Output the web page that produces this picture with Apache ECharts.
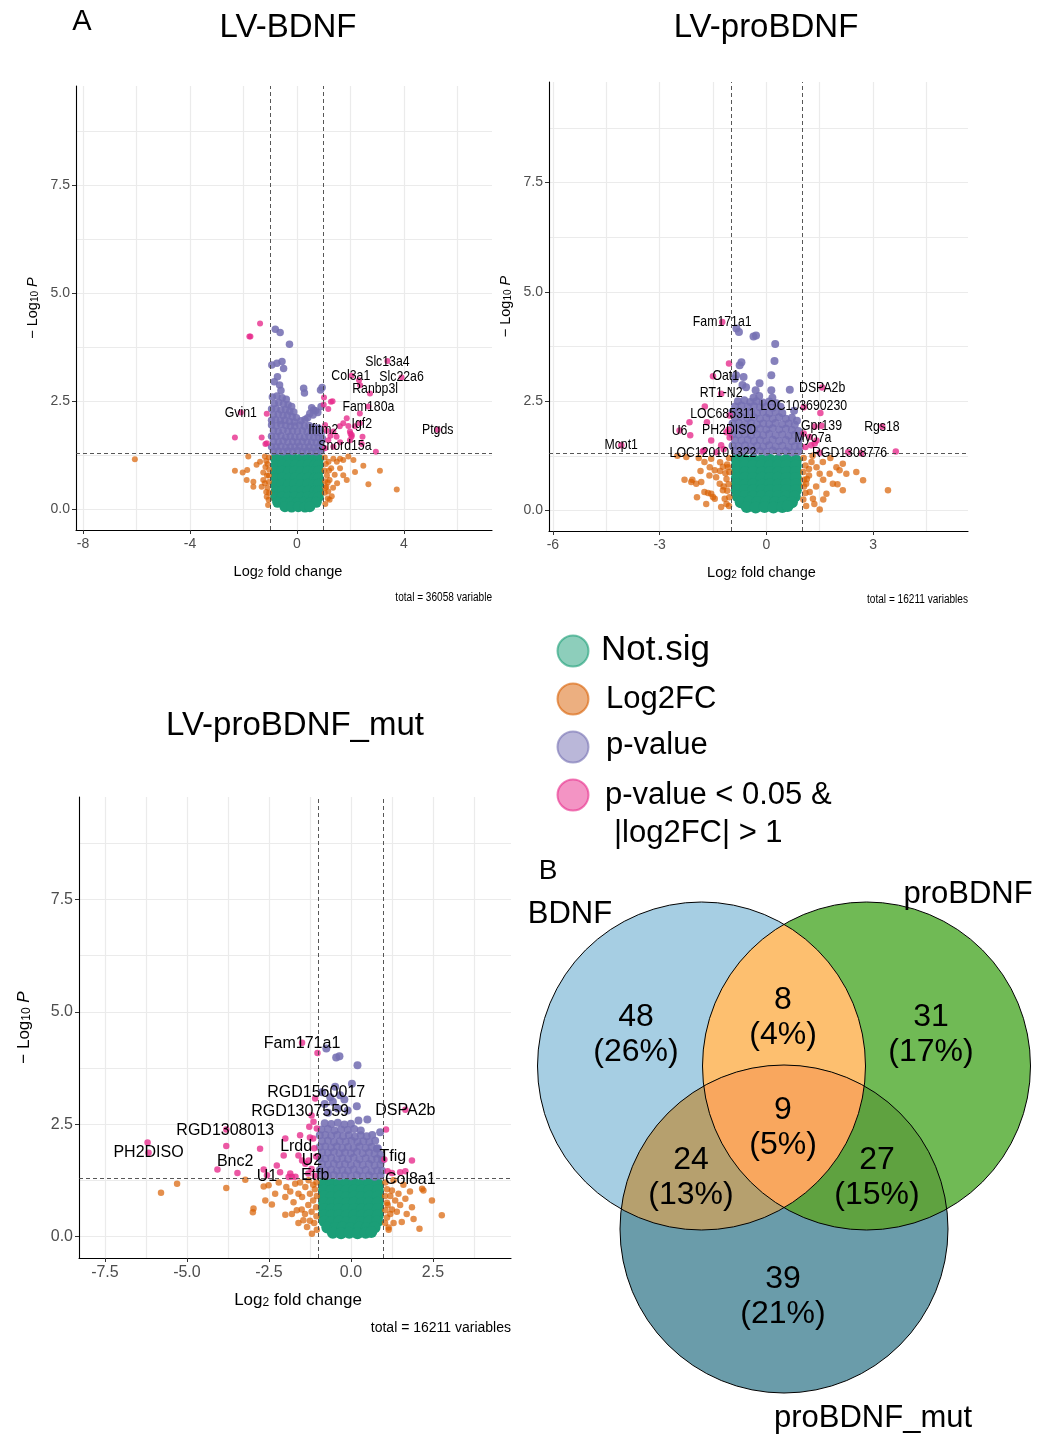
<!DOCTYPE html>
<html><head><meta charset="utf-8">
<script src="https://cdn.jsdelivr.net/npm/echarts@6/dist/echarts.min.js"></script>
<style>html,body{margin:0;padding:0;background:#fff}#c{width:1050px;height:1435px}</style>
</head><body><div id="c"></div><script>
// ---------------- DATA ----------------
// Panel 1: LV-BDNF  [log2FC, -log10 P]
const green1 = [
[-0.8,1.17],[-0.56,1.16],[-0.32,1.17],[-0.08,1.16],[0.16,1.17],[0.4,1.16],[0.64,1.17],[0.8,1.16],
[-0.78,1.02],[-0.54,1.03],[-0.3,1.02],[-0.06,1.03],[0.18,1.02],[0.42,1.03],[0.66,1.02],[0.8,1.02],
[-0.8,0.87],[-0.56,0.88],[-0.32,0.87],[-0.08,0.88],[0.16,0.87],[0.4,0.88],[0.64,0.87],[0.8,0.88],
[-0.78,0.72],[-0.54,0.73],[-0.3,0.72],[-0.06,0.73],[0.18,0.72],[0.42,0.73],[0.66,0.72],[0.8,0.72],
[-0.8,0.57],[-0.56,0.58],[-0.32,0.57],[-0.08,0.58],[0.16,0.57],[0.4,0.58],[0.64,0.57],[0.8,0.58],
[-0.78,0.42],[-0.54,0.43],[-0.3,0.42],[-0.06,0.43],[0.18,0.42],[0.42,0.43],[0.66,0.42],[0.8,0.42],
[-0.8,0.28],[-0.56,0.29],[-0.32,0.28],[-0.08,0.29],[0.16,0.28],[0.4,0.29],[0.64,0.28],[0.8,0.28],
[-0.72,0.16],[-0.48,0.15],[-0.24,0.16],[0.0,0.15],[0.24,0.16],[0.48,0.15],[0.72,0.16],
[-0.45,0.06],[-0.2,0.05],[0.05,0.06],[0.3,0.05],[0.48,0.06]
];
const orange1 = [
[-6.06,1.16],[-2.32,0.89],[-2.03,0.85],[-1.86,0.91],[-1.88,0.68],[-1.63,0.64],[-1.82,1.22],[-1.51,1.03],
[-1.38,1.10],[-1.63,0.52],[-1.26,0.85],[-1.2,1.22],[-1.32,0.52],[-1.13,0.29],[-1.06,0.22],[-1.26,0.68],
[-1.05,1.2],[-1.1,1.05],[-1.04,0.92],[-1.12,0.78],[-1.05,0.63],[-1.1,0.5],[-1.04,0.38],[-1.15,0.4],
[-1.08,0.1],[-1.18,0.98],[-1.2,0.6],[-1.05,0.78],[-1.15,1.12],
[1.61,0.95],[1.73,0.79],[1.86,0.68],[1.92,1.22],[2.11,1.14],[2.17,0.86],[2.48,1.01],[2.67,0.58],[3.1,0.89],
[3.73,0.46],[1.49,1.1],[1.36,1.17],[1.28,0.95],[1.41,0.8],[1.22,0.68],[1.17,0.41],[1.22,0.22],[1.61,1.17],
[1.73,1.14],[1.5,0.6],[1.35,0.5],[1.3,0.3],
[1.04,1.2],[1.08,1.05],[1.03,0.9],[1.12,0.78],[1.05,0.65],[1.1,0.52],[1.04,0.38],[1.15,0.25],[1.06,0.12],
[1.18,1.1],[1.2,0.9],[1.06,0.5],[1.15,0.62]
];
const purple1 = [
[-0.81,4.17],[-0.63,4.09],[-0.28,3.82],[-0.94,3.34],[-0.75,3.38],[-0.56,3.42],[-0.5,3.26],[-0.73,3.07],
[-0.65,2.88],[0.25,2.80],[0.28,2.69],[0.88,2.76],[0.94,2.82],[-0.85,2.95],[-0.6,2.75],
[-0.92,2.6],[-0.75,2.62],[-0.55,2.58],[-0.4,2.55],[-0.85,2.45],[-0.68,2.47],[-0.5,2.44],[-0.33,2.42],
[-0.2,2.38],[-0.95,2.32],[-0.78,2.33],[-0.6,2.3],[-0.43,2.31],[-0.27,2.27],[-0.12,2.25],[-0.88,2.18],
[-0.7,2.2],[-0.52,2.17],[-0.36,2.18],[-0.18,2.14],[-0.02,2.12],[-0.95,2.06],[-0.8,2.07],[-0.62,2.05],
[-0.45,2.06],[-0.28,2.03],[-0.1,2.02],
[0.55,2.35],[0.62,2.3],[0.7,2.28],[0.48,2.22],[0.78,2.24],[0.9,2.38],[0.6,2.18],[0.3,2.08],[0.15,2.05],[0.4,2.12],
[-0.95,1.95],[-0.78,1.93],[-0.6,1.96],[-0.42,1.94],[-0.25,1.92],[-0.08,1.93],[0.1,1.95],[0.28,1.92],
[0.45,1.94],[0.62,1.9],[0.8,1.88],
[-0.88,1.82],[-0.7,1.8],[-0.52,1.83],[-0.34,1.8],[-0.16,1.81],[0.02,1.8],[0.2,1.82],[0.38,1.79],[0.55,1.81],
[0.72,1.78],[0.9,1.76],
[-0.95,1.69],[-0.78,1.68],[-0.6,1.7],[-0.42,1.67],[-0.25,1.69],[-0.08,1.67],[0.1,1.68],[0.28,1.66],
[0.45,1.69],[0.63,1.66],[0.8,1.67],[0.95,1.64],
[-0.88,1.57],[-0.7,1.56],[-0.52,1.58],[-0.34,1.55],[-0.16,1.57],[0.02,1.55],[0.2,1.57],[0.38,1.55],
[0.55,1.56],[0.72,1.54],[0.9,1.55],
[-0.95,1.45],[-0.78,1.44],[-0.6,1.46],[-0.42,1.43],[-0.25,1.45],[-0.08,1.44],[0.1,1.46],[0.28,1.43],
[0.45,1.45],[0.63,1.42],[0.8,1.44],[0.96,1.42],
[-0.88,1.34],[-0.7,1.35],[-0.52,1.33],[-0.34,1.35],[-0.16,1.34],[0.02,1.36],[0.2,1.33],[0.38,1.35],
[0.55,1.34],[0.72,1.33],[0.9,1.35]
];
const pink1 = [
[-1.38,4.3],[-1.78,4.0],[-1.74,4.0],[-1.13,2.21],[-2.1,2.24],[-2.32,1.66],[-1.32,1.66],[-1.18,1.51],[-1.13,1.53],
[3.38,3.43],[2.04,3.09],[2.32,2.99],[3.91,3.05],[2.73,2.68],[2.36,2.87],[2.67,2.38],[2.35,2.22],[1.01,2.59],
[1.27,2.49],[1.33,2.5],[1.17,2.32],[1.0,2.42],[1.86,2.11],[1.92,1.93],[1.73,1.99],[1.98,1.8],[2.04,1.68],
[1.98,1.6],[2.45,1.68],[2.42,1.51],[2.35,1.99],[2.17,1.92],[1.05,1.95],[1.11,1.82],[1.36,1.8],[1.48,1.68],
[1.17,1.6],[1.36,1.45],[1.61,1.55],[1.05,1.41],[2.95,1.33],[5.26,1.84],[2.0,1.75],[2.05,1.72],[1.6,1.92],[1.25,1.7]
];
const labels1 = [
['Slc13a4',3.38,3.42],['Col3a1',2.01,3.09],['Slc22a6',3.91,3.07],['Ranbp3l',2.92,2.78],['Fam180a',2.67,2.36],
['Gvin1',-2.10,2.24],['Igf2',2.42,1.97],['Ifitm2',0.98,1.84],['Ptgds',5.26,1.84],['Snord15a',1.79,1.47]
];

// Panel 2: LV-proBDNF
const green2 = [
[-0.83,1.16],[-0.6,1.15],[-0.37,1.16],[-0.13,1.15],[0.1,1.16],[0.33,1.15],[0.56,1.16],[0.83,1.15],
[-0.83,1.02],[-0.6,1.03],[-0.37,1.02],[-0.13,1.03],[0.1,1.02],[0.33,1.03],[0.56,1.02],[0.83,1.02],
[-0.83,0.88],[-0.6,0.87],[-0.37,0.88],[-0.13,0.87],[0.1,0.88],[0.33,0.87],[0.56,0.88],[0.83,0.88],
[-0.83,0.74],[-0.6,0.75],[-0.37,0.74],[-0.13,0.75],[0.1,0.74],[0.33,0.75],[0.56,0.74],[0.83,0.74],
[-0.83,0.6],[-0.6,0.59],[-0.37,0.6],[-0.13,0.59],[0.1,0.6],[0.33,0.59],[0.56,0.6],[0.83,0.6],
[-0.83,0.46],[-0.6,0.47],[-0.37,0.46],[-0.13,0.47],[0.1,0.46],[0.33,0.47],[0.56,0.46],[0.83,0.46],
[-0.8,0.32],[-0.6,0.33],[-0.37,0.32],[-0.13,0.33],[0.1,0.32],[0.33,0.33],[0.56,0.32],[0.8,0.32],
[-0.72,0.19],[-0.48,0.2],[-0.25,0.19],[0.0,0.2],[0.25,0.19],[0.48,0.2],[0.72,0.19],
[-0.55,0.08],[-0.3,0.07],[-0.05,0.08],[0.2,0.07],[0.45,0.08],[0.6,0.1]
];
const orange2 = [
[-2.25,1.22],[-1.74,1.11],[-1.59,0.99],[-1.45,0.92],[-1.41,0.76],[-1.31,0.61],[-1.22,0.46],[-1.17,0.27],
[-1.27,0.08],[-1.97,0.61],[-1.83,0.65],[-1.74,0.42],[-1.55,0.38],[-1.69,0.15],[-1.45,0.27],[-1.08,0.99],
[-1.12,0.72],[-2.11,0.65],[-2.08,0.7],[-1.64,0.4],[-1.5,0.31],[-2.5,1.25],[-1.9,1.2],[-1.55,1.18],[-1.3,1.1],
[-1.6,0.8],[-1.85,0.9],[-2.3,0.7],[-1.95,0.3],
[-1.05,1.2],[-1.1,1.05],[-1.04,0.88],[-1.15,0.85],[-1.06,0.6],[-1.1,0.45],[-1.04,0.3],[-1.12,0.15],
[-1.2,0.55],[-1.22,1.0],[-1.05,0.1],[-1.3,0.9],
[1.27,1.11],[1.41,0.99],[1.5,0.84],[1.78,0.84],[1.97,0.99],[2.06,0.92],[2.15,0.46],[2.53,0.88],[2.72,0.69],
[3.42,0.46],[1.12,0.61],[1.22,0.42],[1.31,0.27],[1.5,0.02],[1.69,0.38],[1.87,0.61],[1.59,1.11],[2.15,1.07],
[2.25,0.84],[1.4,0.55],[1.6,0.7],[1.8,1.2],[2.0,0.6],[1.35,0.15],[1.6,0.25],[1.2,0.8],[1.3,1.25],
[1.05,1.2],[1.1,1.03],[1.04,0.88],[1.14,0.72],[1.06,0.55],[1.1,0.4],[1.04,0.25],[1.12,0.1],[1.2,0.95],[1.06,0.7]
];
const purple2 = [
[-0.84,4.16],[-0.77,4.08],[-0.36,3.98],[-0.29,4.0],[0.25,3.81],[0.23,3.42],[-0.7,3.39],[-0.75,3.32],
[-0.85,3.09],[-0.89,3.01],[-0.64,3.05],[0.14,3.09],[-0.19,2.91],[-0.67,2.87],[-0.57,2.82],[0.66,2.76],
[0.14,2.75],[0.17,2.58],[-0.3,2.75],[-0.2,2.62],[-0.36,2.58],
[-0.8,2.5],[-0.62,2.52],[-0.45,2.48],[-0.28,2.5],[-0.1,2.47],[0.08,2.49],[0.28,2.45],
[-0.88,2.38],[-0.7,2.4],[-0.52,2.37],[-0.35,2.39],[-0.18,2.36],[0.0,2.38],[0.18,2.35],[0.4,2.37],
[-0.95,2.25],[-0.78,2.27],[-0.6,2.24],[-0.43,2.26],[-0.26,2.23],[-0.09,2.25],[0.08,2.22],[0.26,2.25],[0.45,2.23],[0.78,2.28],
[-0.88,2.12],[-0.7,2.14],[-0.52,2.11],[-0.35,2.13],[-0.18,2.1],[0.0,2.12],[0.18,2.1],[0.36,2.13],[0.55,2.1],[0.72,2.12],[0.86,2.05],
[-0.95,1.99],[-0.78,2.0],[-0.6,1.98],[-0.43,2.0],[-0.26,1.97],[-0.09,1.99],[0.08,1.97],[0.26,2.0],[0.45,1.97],[0.63,1.99],[0.8,1.96],
[-0.88,1.87],[-0.7,1.86],[-0.52,1.88],[-0.35,1.85],[-0.18,1.87],[0.0,1.85],[0.18,1.88],[0.36,1.85],[0.55,1.87],[0.72,1.84],[0.9,1.82],
[-0.95,1.74],[-0.78,1.73],[-0.6,1.75],[-0.43,1.72],[-0.26,1.74],[-0.09,1.72],[0.08,1.75],[0.26,1.72],[0.45,1.74],[0.63,1.71],[0.8,1.73],[0.95,1.7],
[-0.88,1.61],[-0.7,1.6],[-0.52,1.62],[-0.35,1.59],[-0.18,1.61],[0.0,1.59],[0.18,1.62],[0.36,1.59],[0.55,1.61],[0.72,1.58],[0.9,1.6],
[-0.95,1.48],[-0.78,1.47],[-0.6,1.49],[-0.43,1.46],[-0.26,1.48],[-0.09,1.46],[0.08,1.49],[0.26,1.46],[0.45,1.48],[0.63,1.45],[0.8,1.47],[0.95,1.46],
[-0.88,1.36],[-0.7,1.35],[-0.52,1.37],[-0.35,1.34],[-0.18,1.36],[0.0,1.34],[0.18,1.37],[0.36,1.34],[0.55,1.36],[0.72,1.33],[0.9,1.35]
];
const pink2 = [
[-1.24,4.31],[-1.05,3.36],[-1.5,3.07],[-1.27,2.67],[-1.73,2.38],[-1.03,2.17],[-2.16,2.02],[-1.67,2.02],
[-2.44,1.83],[-2.14,1.72],[-1.55,1.6],[-1.12,1.79],[-1.27,1.49],[-1.79,1.35],[-1.75,1.37],[-1.4,1.33],
[-4.08,1.49],[-1.06,1.85],[-1.03,1.67],[-1.2,1.4],
[1.57,2.81],[1.05,2.36],[1.52,2.23],[1.36,1.92],[1.55,1.94],[1.22,1.68],[1.36,1.53],[1.26,1.49],[1.41,1.6],
[1.05,1.76],[2.3,1.33],[2.67,1.31],[3.26,1.92],[3.64,1.35],[1.5,1.32],[1.1,1.45]
];
const labels2 = [
['Fam171a1',-1.24,4.31],['Oat1',-1.14,3.07],['RT1-N2',-1.27,2.68],['DSPA2b',1.57,2.81],['LOC103690230',1.05,2.40],
['LOC685311',-1.22,2.21],['U6',-2.44,1.83],['PH2DISO',-1.05,1.85],['Gpr139',1.55,1.94],['Rgs18',3.25,1.92],
['Myo7a',1.31,1.66],['Mcpt1',-4.08,1.49],['LOC120101322',-1.50,1.32],['RGD1308776',2.34,1.31]
];

// Panel 3: LV-proBDNF_mut
const green3 = [
[-0.82,1.17],[-0.59,1.16],[-0.36,1.17],[-0.13,1.16],[0.1,1.17],[0.33,1.16],[0.56,1.17],[0.82,1.16],
[-0.82,1.03],[-0.59,1.02],[-0.36,1.03],[-0.13,1.02],[0.1,1.03],[0.33,1.02],[0.56,1.03],[0.82,1.03],
[-0.82,0.89],[-0.59,0.88],[-0.36,0.89],[-0.13,0.88],[0.1,0.89],[0.33,0.88],[0.56,0.89],[0.82,0.89],
[-0.82,0.75],[-0.59,0.74],[-0.36,0.75],[-0.13,0.74],[0.1,0.75],[0.33,0.74],[0.56,0.75],[0.82,0.75],
[-0.82,0.61],[-0.59,0.6],[-0.36,0.61],[-0.13,0.6],[0.1,0.61],[0.33,0.6],[0.56,0.61],[0.82,0.61],
[-0.82,0.47],[-0.59,0.46],[-0.36,0.47],[-0.13,0.46],[0.1,0.47],[0.33,0.46],[0.56,0.47],[0.82,0.47],
[-0.8,0.33],[-0.59,0.32],[-0.36,0.33],[-0.13,0.32],[0.1,0.33],[0.33,0.32],[0.56,0.33],[0.8,0.33],
[-0.72,0.2],[-0.48,0.19],[-0.25,0.2],[0.0,0.19],[0.25,0.2],[0.48,0.19],[0.72,0.2],
[-0.55,0.08],[-0.3,0.07],[-0.05,0.08],[0.2,0.07],[0.45,0.08],[0.62,0.1]
];
const orange3 = [
[-5.79,0.97],[-5.3,1.17],[-3.8,1.08],[-3.22,1.26],[-2.99,0.54],[-2.97,0.62],[-2.61,0.8],[-2.66,1.11],
[-2.51,1.14],[-2.31,0.95],[-2.41,0.71],[-2.0,0.88],[-1.97,1.1],[-2.0,0.48],[-1.75,0.76],[-1.65,0.58],
[-1.45,0.36],[-1.34,0.21],[-1.19,0.06],[-1.49,0.88],[-1.39,1.1],[-1.7,1.17],[-1.29,1.25],[-1.85,1.0],
[-1.6,0.95],[-1.5,0.6],[-1.3,0.7],[-1.6,0.3],[-1.4,0.5],[-1.8,0.5],[-2.2,1.2],[-1.55,1.2],
[-1.05,1.2],[-1.1,1.05],[-1.04,0.9],[-1.15,0.8],[-1.06,0.65],[-1.2,0.55],[-1.05,0.45],[-1.12,0.3],
[-1.04,0.15],[-1.25,0.95],[-1.25,0.35],[-1.15,1.15],
[1.25,1.02],[1.35,0.8],[1.45,0.95],[1.66,0.84],[1.86,0.65],[1.91,0.39],[2.09,0.17],[2.21,1.02],[2.47,0.8],
[2.77,0.47],[2.17,1.06],[1.55,0.32],[1.2,0.5],[1.4,0.55],[1.1,0.75],[1.3,1.25],[1.6,1.15],[1.8,1.0],
[1.5,0.7],[1.3,0.3],[1.7,0.5],[1.15,0.2],
[1.05,1.2],[1.1,1.05],[1.04,0.9],[1.12,0.7],[1.05,0.58],[1.1,0.42],[1.04,0.3],[1.15,0.15],[1.2,0.9],[1.25,0.6]
];
const purple3 = [
[-0.75,4.18],[-0.45,3.98],[-0.35,4.01],[0.2,3.81],[-0.48,3.33],[0.03,3.4],[-0.88,3.21],[-0.63,3.1],
[-0.33,3.14],[0.18,2.9],[0.23,2.58],[0.89,2.32],[0.79,1.95],[-0.55,3.0],[-0.2,3.05],[-0.8,2.95],
[-0.4,2.85],[-0.1,2.8],[-0.7,2.75],[0.5,2.6],
[-0.8,2.52],[-0.6,2.5],[-0.4,2.53],[-0.2,2.49],[0.0,2.51],
[-0.9,2.38],[-0.7,2.39],[-0.5,2.36],[-0.3,2.38],[-0.1,2.37],[0.1,2.39],[0.3,2.36],
[-0.95,2.25],[-0.78,2.26],[-0.6,2.24],[-0.42,2.26],[-0.24,2.23],[-0.06,2.25],[0.12,2.22],[0.3,2.25],[0.48,2.23],[0.65,2.26],
[-0.88,2.12],[-0.7,2.13],[-0.52,2.1],[-0.34,2.12],[-0.16,2.11],[0.02,2.13],[0.2,2.1],[0.38,2.12],[0.56,2.1],[0.74,2.13],
[-0.95,1.99],[-0.78,2.0],[-0.6,1.98],[-0.43,2.0],[-0.26,1.97],[-0.09,1.99],[0.08,1.97],[0.26,2.0],[0.45,1.97],[0.63,1.99],[0.82,1.96],
[-0.88,1.87],[-0.7,1.86],[-0.52,1.88],[-0.35,1.85],[-0.18,1.87],[0.0,1.85],[0.18,1.88],[0.36,1.85],[0.55,1.87],[0.72,1.84],[0.9,1.82],
[-0.95,1.74],[-0.78,1.73],[-0.6,1.75],[-0.43,1.72],[-0.26,1.74],[-0.09,1.72],[0.08,1.75],[0.26,1.72],[0.45,1.74],[0.63,1.71],[0.8,1.73],[0.95,1.7],
[-0.88,1.61],[-0.7,1.6],[-0.52,1.62],[-0.35,1.59],[-0.18,1.61],[0.0,1.59],[0.18,1.62],[0.36,1.59],[0.55,1.61],[0.72,1.58],[0.9,1.6],
[-0.95,1.48],[-0.78,1.47],[-0.6,1.49],[-0.43,1.46],[-0.26,1.48],[-0.09,1.46],[0.08,1.49],[0.26,1.46],[0.45,1.48],[0.63,1.45],[0.8,1.47],[0.95,1.46],
[-0.88,1.36],[-0.7,1.35],[-0.52,1.37],[-0.35,1.34],[-0.18,1.36],[0.0,1.34],[0.18,1.37],[0.36,1.34],[0.55,1.36],[0.72,1.33],[0.9,1.35]
];
const pink3 = [
[-1.49,4.31],[-1.02,4.08],[-1.09,3.07],[-1.2,2.69],[-1.14,2.55],[-1.04,2.4],[-3.8,2.38],[-6.2,2.09],
[-6.17,1.86],[-3.8,2.01],[-4.07,1.49],[-3.46,1.41],[-2.77,1.95],[-2.66,1.49],[-2.26,1.58],[-2.0,2.18],
[-2.05,1.8],[-1.55,2.25],[-1.6,1.8],[-1.25,2.2],[-1.15,2.18],[-1.49,1.69],[-1.39,1.62],[-1.29,1.69],
[-2.16,1.43],[-1.85,1.4],[-1.8,1.33],[-1.69,1.33],[-1.9,1.32],[-2.56,1.36],[-1.12,1.96],[-1.06,1.78],
[-1.27,2.44],[-1.2,1.5],[-1.3,1.4],[-1.1,1.35],
[1.66,2.82],[1.07,2.38],[1.02,1.71],[1.86,1.69],[1.12,1.45],[1.25,1.41],[1.5,1.43],[1.66,1.45]
];
const labels3 = [
['Fam171a1',-1.49,4.29],['RGD1560017',-1.06,3.20],['RGD1307559',-1.55,2.78],['DSPA2b',1.66,2.79],
['RGD1308013',-3.83,2.36],['PH2DISO',-6.17,1.86],['Lrdd',-1.67,1.99],['Tfig',1.28,1.78],['Bnc2',-3.53,1.67],
['U2',-1.19,1.69],['U1',-2.56,1.34],['Etfb',-1.09,1.36],['Col8a1',1.81,1.27]
];

// axis ticks / grid values
const yTicks = [0, 2.5, 5, 7.5];
const yGrid = [0, 1.25, 2.5, 3.75, 5, 6.25, 7.5, 8.75];
const xTicks1 = [-8, -4, 0, 4];
const xGrid1 = [-8, -6, -4, -2, 0, 2, 4, 6];
const xTicks2 = [-6, -3, 0, 3];
const xGrid2 = [-6, -4.5, -3, -1.5, 0, 1.5, 3, 4.5];
const xTicks3 = [-7.5, -5, -2.5, 0, 2.5];
const xGrid3 = [-7.5, -6.25, -5, -3.75, -2.5, -1.25, 0, 1.25, 2.5, 3.75];
const fcCut = 1, pCut = 1.301;

const titles = ['LV-BDNF', 'LV-proBDNF', 'LV-proBDNF_mut'];
const totals = ['total = 36058 variable', 'total = 16211 variables', 'total = 16211 variables'];
const legendNames = ['Not.sig', 'Log2FC', 'p-value', 'p-value < 0.05 &'];

// Venn
const vennSets = ['BDNF', 'proBDNF', 'proBDNF_mut'];
const vennCounts = [48, 8, 31, 9, 24, 27, 39];   // A, AB, B, ABC, AC, BC, C
const vennPct = ['26%', '4%', '17%', '5%', '13%', '15%', '21%'];

// ---------------- LAYOUT / STYLE ----------------
const REG = '"Liberation Sans",Arial,"Helvetica",sans-serif';
const COL = {ns:'#1b9e77', fc:'#d95f02', pv:'#7570b3', both:'#e7298a'};

const panels = [
 {grid:{left:76, top:86, width:416, height:444}, xmin:-8.26, xmax:7.29, ymin:-0.48, ymax:9.8,
  xTicks:xTicks1, xGrid:xGrid1, xfmt:v=>String(v), tick:14, ttl:14.5, lab:15, labScale:0.82,
  gs:11, ps:7.5, xGap:31, yGap:36, xPad:[0,0,0,8], data:[green1,orange1,purple1,pink1,labels1]},
 {grid:{left:549, top:82, width:419, height:449}, xmin:-6.11, xmax:5.67, ymin:-0.47, ymax:9.8,
  xTicks:xTicks2, xGrid:xGrid2, xfmt:v=>String(v), tick:14, ttl:14.5, lab:15, labScale:0.82,
  gs:12, ps:8, xGap:31, yGap:36, xPad:[0,0,0,6], data:[green2,orange2,purple2,pink2,labels2]},
 {grid:{left:79, top:797, width:432, height:461}, xmin:-8.29, xmax:4.88, ymin:-0.48, ymax:9.78,
  xTicks:xTicks3, xGrid:xGrid3, xfmt:v=>v.toFixed(1), tick:16, ttl:17, lab:16, labScale:1,
  gs:12, ps:8, xGap:30, yGap:46, xPad:[0,0,0,6], data:[green3,orange3,purple3,pink3,labels3]}
];

const grids=[], xAxes=[], yAxes=[], series=[];
panels.forEach((p,i)=>{
  grids.push(Object.assign({containLabel:false}, p.grid));
  const rich = {
    a:{fontSize:p.ttl, fontFamily:REG, color:'#000', lineHeight:p.ttl+4, verticalAlign:'bottom'},
    b:{fontSize:Math.round(p.ttl*0.68), fontFamily:REG, color:'#000', lineHeight:Math.round(p.ttl*0.68), verticalAlign:'bottom'},
    c:{fontSize:p.ttl, fontFamily:REG, color:'#000', fontStyle:'italic', lineHeight:p.ttl+4, verticalAlign:'bottom'}
  };
  xAxes.push({type:'value', gridIndex:i, min:p.xmin, max:p.xmax, splitLine:{show:false},
    axisLine:{show:true, onZero:false, lineStyle:{color:'#000', width:1.1}},
    axisTick:{show:true, customValues:p.xTicks, length:4, lineStyle:{color:'#333'}},
    axisLabel:{customValues:p.xTicks, formatter:p.xfmt, color:'#4d4d4d', fontSize:p.tick, fontFamily:REG, margin:7},
    name:'{a|Log}{b|2}{a| fold change}', nameLocation:'middle', nameGap:p.xGap, nameTextStyle:{rich:rich, padding:p.xPad}});
  yAxes.push({type:'value', gridIndex:i, min:p.ymin, max:p.ymax, splitLine:{show:false},
    axisLine:{show:true, onZero:false, lineStyle:{color:'#000', width:1.1}},
    axisTick:{show:true, customValues:yTicks, length:4, lineStyle:{color:'#333'}},
    axisLabel:{customValues:yTicks, formatter:v=>v.toFixed(1), color:'#4d4d4d', fontSize:p.tick, fontFamily:REG, margin:6},
    name:'{a|− Log}{b|10}{c| P}', nameLocation:'middle', nameRotate:90, nameGap:p.yGap, nameTextStyle:{rich:rich}});
  const [g,o,pv,pk,lb] = p.data;
  const pt = (c,op)=>({color:c, opacity:op, borderWidth:0, shadowBlur:0});
  series.push({type:'line', xAxisIndex:i, yAxisIndex:i, data:[], z:0, silent:true,
    markLine:{silent:true, z:0, symbol:['none','none'], animation:false, label:{show:false},
      lineStyle:{color:'#ebebeb', width:1.2, type:'solid'},
      data: p.xGrid.map(v=>({xAxis:v})).concat(yGrid.map(v=>({yAxis:v})))}});
  series.push({type:'scatter', name:'Not.sig', xAxisIndex:i, yAxisIndex:i, data:g, symbolSize:p.gs, z:2, silent:true,
    itemStyle:pt(COL.ns,1)});
  series.push({type:'scatter', name:'Log2FC', xAxisIndex:i, yAxisIndex:i, data:o, symbolSize:p.ps-1.5, z:3, silent:true,
    itemStyle:pt(COL.fc,0.7)});
  series.push({type:'scatter', name:'p-value', xAxisIndex:i, yAxisIndex:i, data:pv, symbolSize:p.ps, z:3, silent:true,
    itemStyle:pt(COL.pv,0.88)});
  series.push({type:'scatter', name:'p-value and log2 FC', xAxisIndex:i, yAxisIndex:i, data:pk, symbolSize:p.ps-1.5, z:4, silent:true,
    itemStyle:pt(COL.both,0.78)});
  series.push({type:'line', xAxisIndex:i, yAxisIndex:i, data:[], z:8, silent:true,
    markLine:{silent:true, z:8, symbol:['none','none'], animation:false, label:{show:false},
      lineStyle:{color:'#444', width:0.9, type:[4,3]},
      data:[{xAxis:-fcCut},{xAxis:fcCut},{yAxis:pCut}]}});
  series.push({type:'custom', xAxisIndex:i, yAxisIndex:i, z:9, silent:true,
    data: lb.map(r=>[r[1], r[2]]),
    renderItem:(params, api)=>{
      const c = api.coord([api.value(0), api.value(1)]);
      return {type:'text', x:c[0], y:c[1], scaleX:p.labScale, style:{text:lb[params.dataIndex][0], fill:'#000',
        font: p.lab+'px '+REG, align:'center', verticalAlign:'middle'}};
    }});
});

// ---------------- GRAPHIC: titles, captions, legend, venn ----------------
const graphic = [];
function txt(x,y,s,size,opt){
  graphic.push(Object.assign({type:'text', x:x, y:y, z:10, silent:true,
    style:{text:s, fill:'#000', font:size+'px '+REG, align:'center', verticalAlign:'middle'}}, opt||{}));
}
txt(82, 22, 'A', 29);
txt(288, 28, titles[0], 33);
txt(766, 28, titles[1], 33);
txt(295, 726, titles[2], 33);
graphic.push({type:'text', x:492, y:598, scaleX:0.84, silent:true, style:{text:totals[0], fill:'#000', font:'12px '+REG, align:'right', verticalAlign:'middle'}});
graphic.push({type:'text', x:968, y:600, scaleX:0.84, silent:true, style:{text:totals[1], fill:'#000', font:'12px '+REG, align:'right', verticalAlign:'middle'}});
graphic.push({type:'text', x:511, y:1328, silent:true, style:{text:totals[2], fill:'#000', font:'14px '+REG, align:'right', verticalAlign:'middle'}});

// legend
const legCols = [['rgba(27,158,119,0.5)','rgba(27,158,119,0.6)'],['rgba(217,95,2,0.5)','rgba(217,95,2,0.6)'],
                 ['rgba(117,112,179,0.5)','rgba(117,112,179,0.6)'],['rgba(231,41,138,0.5)','rgba(231,41,138,0.6)']];
const legY = [651, 699, 747, 795];
const legTx = [[601,650,35],[606,699,31],[606,745,31],[605,795,31]];
legendNames.forEach((n,k)=>{
  graphic.push({type:'circle', shape:{cx:573, cy:legY[k], r:15.5}, silent:true,
    style:{fill:legCols[k][0], stroke:legCols[k][1], lineWidth:2}});
  graphic.push({type:'text', x:legTx[k][0], y:legTx[k][1], silent:true,
    style:{text:n, fill:'#000', font:legTx[k][2]+'px '+REG, align:'left', verticalAlign:'middle'}});
});
graphic.push({type:'text', x:614, y:833, silent:true, style:{text:'|log2FC| > 1', fill:'#000', font:'31px '+REG, align:'left', verticalAlign:'middle'}});

// Venn diagram
const CA = {x:701.5, y:1066, r:164}, CB = {x:866.5, y:1066, r:164}, CC = {x:784, y:1229, r:164};
function interPoly(cs){
  const pts=[]; const N=900;
  cs.forEach((c,i)=>{
    for(let k=0;k<N;k++){
      const a=k/N*2*Math.PI, x=c.x+c.r*Math.cos(a), y=c.y+c.r*Math.sin(a);
      if(cs.every((o,j)=> j===i || Math.hypot(x-o.x,y-o.y)<=o.r+0.01)) pts.push([x,y]);
    }
  });
  let cx=0, cy=0; pts.forEach(p=>{cx+=p[0]; cy+=p[1];}); cx/=pts.length; cy/=pts.length;
  pts.sort((p,q)=>Math.atan2(p[1]-cy,p[0]-cx)-Math.atan2(q[1]-cy,q[0]-cx));
  return pts;
}
[[CA,'#a6cee3'],[CB,'#70ba55'],[CC,'#6a9caa']].forEach(([c,f])=>{
  graphic.push({type:'circle', shape:{cx:c.x, cy:c.y, r:c.r}, silent:true, style:{fill:f}});
});
[[[CA,CB],'#fdbf6f'],[[CA,CC],'#b6a06e'],[[CB,CC],'#5fa240'],[[CA,CB,CC],'#f9a75e']].forEach(([cs,f])=>{
  graphic.push({type:'polygon', shape:{points:interPoly(cs)}, silent:true, style:{fill:f}});
});
[CA,CB,CC].forEach(c=>{
  graphic.push({type:'circle', shape:{cx:c.x, cy:c.y, r:c.r}, silent:true, style:{fill:null, stroke:'#000', lineWidth:1}});
});
const vennPos = [[636,1035],[783,1018],[931,1035],[783,1128],[691,1178],[877,1178],[783,1297]];
vennCounts.forEach((n,k)=>{
  graphic.push({type:'text', x:vennPos[k][0], y:vennPos[k][1], silent:true,
    style:{text:n+'\n('+vennPct[k]+')', fill:'#000', font:'32px '+REG, lineHeight:35, align:'center', verticalAlign:'middle'}});
});
txt(548, 871, 'B', 28);
txt(570, 914, vennSets[0], 31);
txt(968, 894, vennSets[1], 31);
txt(873, 1418, vennSets[2], 31);

const chart = echarts.init(document.getElementById('c'), null, {renderer:'canvas'});
chart.setOption({backgroundColor:'#fff', animation:false, grid:grids, xAxis:xAxes, yAxis:yAxes, series:series, graphic:graphic});
</script></body></html>
